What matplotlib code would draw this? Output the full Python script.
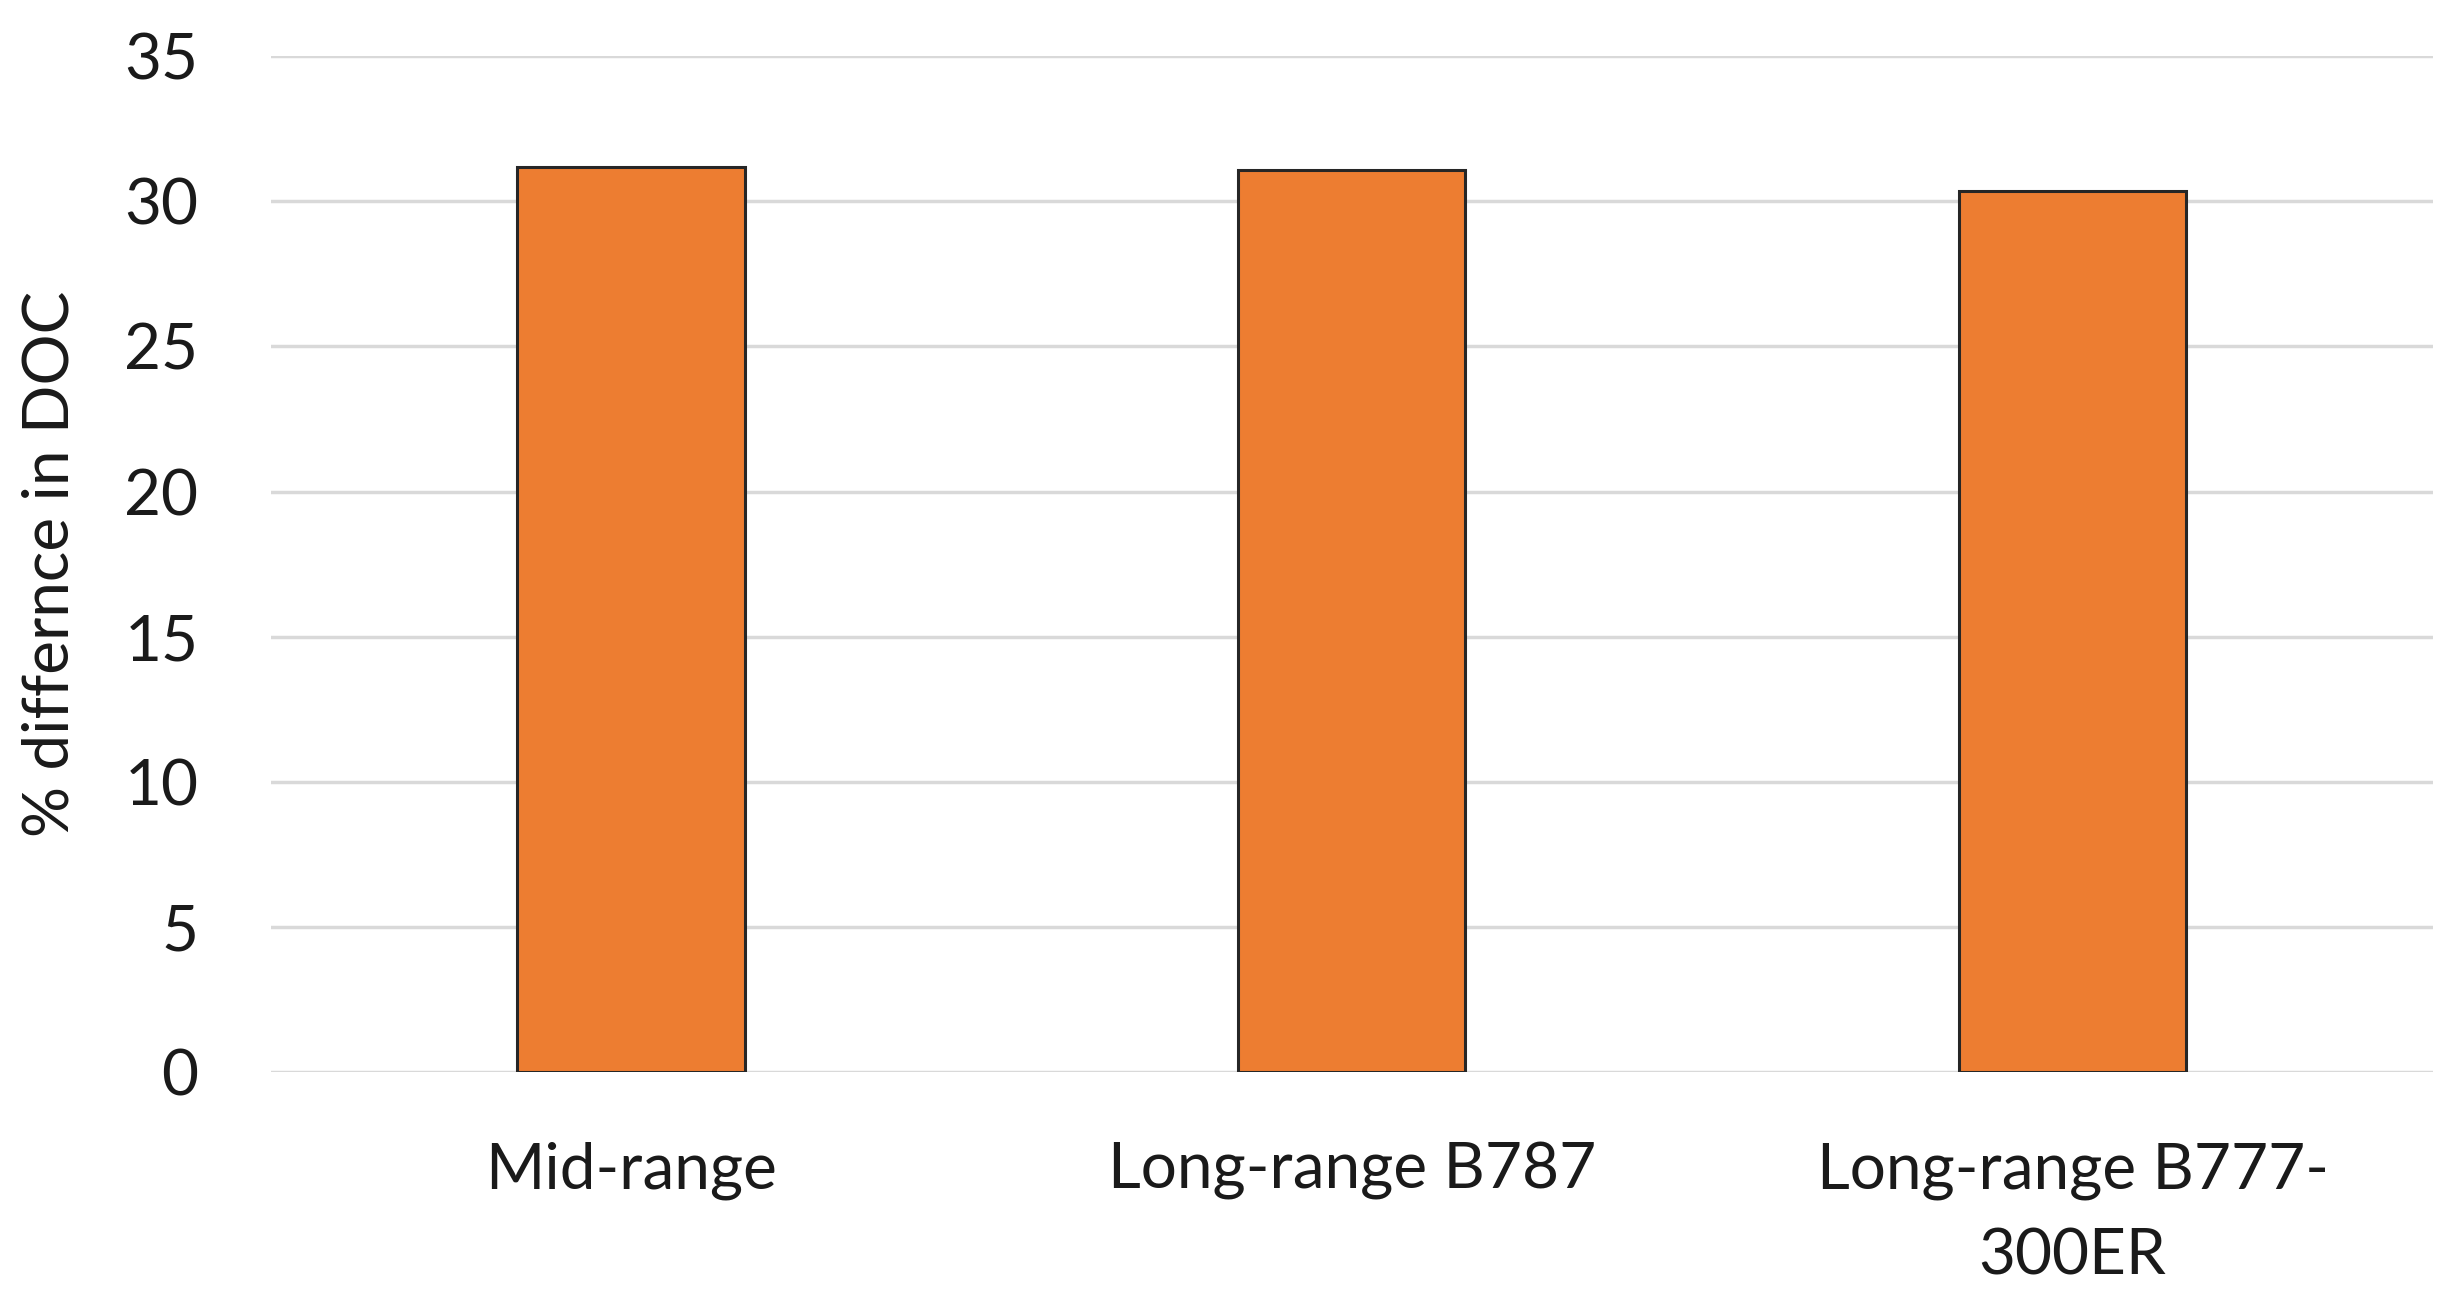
import matplotlib
matplotlib.use("Agg")
import matplotlib.pyplot as plt

categories = ["Mid-range", "Long-range B787", "Long-range B777-\n300ER"]
doc_diff = [31.18, 31.07, 30.35]
y_ticks = [0, 5, 10, 15, 20, 25, 30, 35]

plt.rcParams['font.family'] = ['Lato', 'DejaVu Sans']

fig = plt.figure(figsize=(24.6, 13.05), dpi=100)
ax = fig.add_axes([0.110, 0.1785, 0.879, 0.7785])

x = range(len(categories))
ax.bar(x, doc_diff, width=0.315, color='#ED7D31', edgecolor='#262626',
       linewidth=2.2, zorder=3)

ax.set_xlim(-0.5, len(categories) - 0.5)
ax.set_ylim(0, 35)
ax.set_yticks(y_ticks)
ax.set_xticks(list(x))
ax.set_xticklabels(categories, linespacing=1.6)
ax.tick_params(axis='y', length=0, pad=52, labelsize=46, labelcolor='#1a1a1a')
ax.tick_params(axis='x', length=0, pad=50, labelsize=46, labelcolor='#1a1a1a')

ax.grid(axis='y', color='#d9d9d9', linewidth=2.5, zorder=0)
for s in ax.spines.values():
    s.set_visible(False)

ax.set_ylabel("% differnce in DOC", fontsize=46, color='#1a1a1a', labelpad=32)

fig.savefig("out.png", dpi=100, facecolor='white')
